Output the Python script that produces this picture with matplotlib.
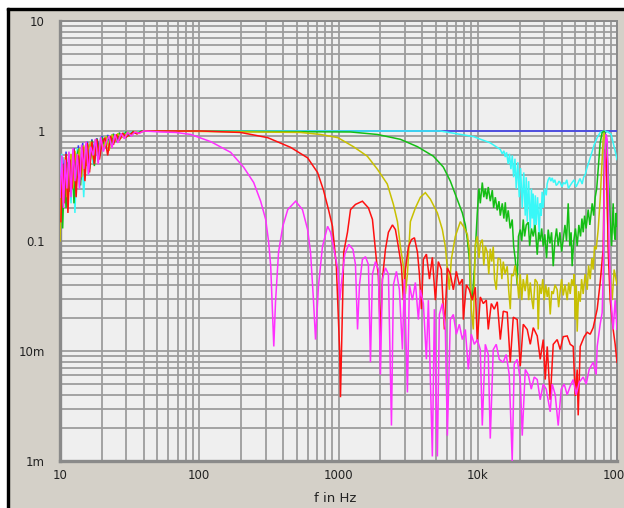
import numpy as np
import matplotlib
matplotlib.use("Agg")
import matplotlib.pyplot as plt
from matplotlib.ticker import LogLocator, FixedLocator, FixedFormatter, NullFormatter
from matplotlib.patches import Rectangle

# noisy low-frequency start, two slightly shifted grids
low_f_a = [10, 10.3, 10.6, 10.9, 11.2, 11.6, 12, 12.4, 12.8, 13.3, 13.8, 14.3, 14.8, 15.4, 16, 16.6, 17.3,
           18, 18.8, 19.6, 20.5, 21.5, 22.5, 23.6, 24.8, 26, 27.4, 29, 30.6, 32.5, 34.5, 37, 40]
low_f_b = [10.15, 10.45, 10.75, 11.05, 11.4, 11.8, 12.2, 12.6, 13.05, 13.55, 14.05, 14.55, 15.1, 15.7, 16.3,
           16.95, 17.65, 18.4, 19.2, 20.05, 21, 22, 23.05, 24.2, 25.4, 26.7, 28.2, 29.8, 31.5, 33.5, 35.7, 38.5, 42]

low_magenta = [0.25, 0.6, 0.2, 0.55, 0.3, 0.65, 0.25, 0.7, 0.35, 0.62, 0.3, 0.75, 0.45, 0.8, 0.4, 0.72, 0.6,
               0.85, 0.5, 0.88, 0.65, 0.8, 0.9, 0.7, 0.93, 0.78, 0.95, 0.85, 0.97, 0.9, 0.98, 0.95, 1.0]
low_red = [0.15, 0.5, 0.22, 0.62, 0.18, 0.55, 0.3, 0.68, 0.25, 0.6, 0.38, 0.72, 0.35, 0.78, 0.42, 0.8, 0.5,
           0.84, 0.55, 0.78, 0.87, 0.6, 0.9, 0.75, 0.93, 0.82, 0.96, 0.88, 0.92, 0.98, 0.94, 0.99, 1.0]
low_yellow = [0.1, 0.45, 0.32, 0.58, 0.25, 0.5, 0.62, 0.3, 0.66, 0.45, 0.7, 0.38, 0.74, 0.48, 0.68, 0.8, 0.55,
              0.84, 0.62, 0.86, 0.7, 0.9, 0.66, 0.93, 0.8, 0.95, 0.86, 0.92, 0.97, 0.93, 0.99, 0.96, 1.0]
low_green = [0.3, 0.13, 0.45, 0.2, 0.52, 0.28, 0.6, 0.22, 0.55, 0.68, 0.32, 0.72, 0.5, 0.76, 0.45, 0.82, 0.48,
             0.85, 0.6, 0.88, 0.7, 0.9, 0.75, 0.94, 0.8, 0.96, 0.88, 0.98, 0.9, 0.99, 0.95, 1.0, 1.0]
low_cyan = [0.4, 0.62, 0.3, 0.55, 0.2, 0.6, 0.22, 0.66, 0.18, 0.7, 0.3, 0.74, 0.25, 0.76, 0.4, 0.8, 0.5,
            0.84, 0.55, 0.88, 0.68, 0.9, 0.75, 0.93, 0.82, 0.95, 0.88, 0.97, 0.92, 0.98, 0.96, 0.99, 1.0]
low_blue = [0.3, 0.58, 0.25, 0.65, 0.35, 0.6, 0.3, 0.7, 0.42, 0.74, 0.36, 0.78, 0.5, 0.8, 0.6, 0.84, 0.62,
            0.86, 0.7, 0.9, 0.72, 0.92, 0.8, 0.94, 0.85, 0.96, 0.9, 0.97, 0.94, 0.98, 0.97, 1.0, 1.0]

f_magenta = [53, 68, 87, 121, 168, 208, 246, 276, 300, 315, 326, 337, 343, 353, 371, 398, 432, 492, 551, 600,
             630, 661, 684, 718, 767, 835, 877, 920, 990, 1023, 1057, 1110, 1185, 1270, 1324, 1370, 1415, 1485,
             1562, 1640, 1696, 1753, 1842, 1935, 2000, 2067, 2173, 2283, 2400, 2480, 2606, 2738, 2877, 2974,
             3125, 3230, 3394, 3566, 3747, 3873, 4070, 4276, 4420, 4720, 4880, 5130, 5300, 5570, 5850, 6050,
             6356, 6680, 7020, 7375, 7750, 8143, 8555, 8990, 9445, 9925, 10430, 10780, 11330, 11900, 12300,
             12920, 13580, 14270, 15240, 16010, 16830, 17680, 18280, 19200, 20200, 20870, 21940, 23050, 24220,
             25450, 26740, 28100, 29530, 31030, 33150, 34260, 36000, 37830, 39750, 41770, 43890, 46130, 48470,
             50930, 53520, 57180, 60090, 63140, 67450, 70880, 72050, 75720, 78240, 79540, 80860, 82240, 83600,
             85000, 86400, 87850, 90800, 93850, 97000, 100000]
m_magenta = [0.98, 0.97, 0.93, 0.80, 0.64, 0.47, 0.34, 0.23, 0.157, 0.098, 0.059, 0.0193, 0.011, 0.028, 0.079,
             0.136, 0.193, 0.23, 0.193, 0.127, 0.079, 0.029, 0.0127, 0.039, 0.089, 0.136, 0.12, 0.089, 0.055,
             0.029, 0.045, 0.076, 0.093, 0.084, 0.061, 0.0157, 0.040, 0.068, 0.072, 0.061, 0.0079, 0.050, 0.065,
             0.055, 0.0061, 0.045, 0.057, 0.050, 0.0021, 0.040, 0.053, 0.036, 0.0103, 0.045, 0.0042, 0.040,
             0.029, 0.042, 0.0193, 0.036, 0.027, 0.0084, 0.029, 0.0011, 0.024, 0.0011, 0.0215, 0.027, 0.0157,
             0.0017, 0.0193, 0.0215, 0.0142, 0.0175, 0.0127, 0.0157, 0.0068, 0.0142, 0.0115, 0.0127, 0.0103,
             0.0021, 0.0115, 0.0093, 0.0016, 0.0103, 0.0115, 0.0084, 0.0079, 0.0093, 0.0061, 0.0010, 0.0076,
             0.0084, 0.0055, 0.0017, 0.0068, 0.0061, 0.0045, 0.0058, 0.0055, 0.0036, 0.0050, 0.0045, 0.0028,
             0.0050, 0.0040, 0.0021, 0.0045, 0.0050, 0.0040, 0.0048, 0.0055, 0.0040, 0.0052, 0.0058, 0.0050,
             0.0068, 0.0079, 0.0061, 0.011, 0.0175, 0.0223, 0.048, 0.24, 0.68, 0.93, 0.84, 0.36, 0.084, 0.028,
             0.0157, 0.029, 0.0157]

f_red = [50, 103, 198, 310, 453, 600, 707, 780, 850, 905, 935, 965, 990, 1020, 1033, 1070, 1090, 1160, 1220,
         1324, 1485, 1640, 1753, 1810, 1870, 1935, 2000, 2067, 2173, 2283, 2440, 2563, 2690, 2830, 2925, 3023,
         3175, 3340, 3510, 3690, 3810, 3940, 4070, 4280, 4500, 4720, 4960, 5210, 5480, 5760, 6050, 6356, 6680,
         7020, 7375, 7750, 7880, 8280, 8700, 9140, 9605, 9925, 10430, 10960, 11520, 11900, 12510, 13140, 13810,
         14520, 15250, 16280, 17120, 17990, 19200, 20200, 21220, 22660, 23830, 25040, 26740, 28100, 29530,
         30530, 31550, 33150, 34840, 37200, 39100, 41090, 43890, 46130, 48470, 50100, 51780, 52640, 54420,
         58150, 61100, 64190, 67450, 72050, 75720, 79540, 80860, 82240, 83600, 85000, 86400, 89320, 93850,
         97000, 100000]
m_red = [1.0, 1.0, 0.97, 0.87, 0.71, 0.57, 0.42, 0.29, 0.19, 0.136, 0.089, 0.059, 0.026, 0.0097, 0.0038, 0.029,
         0.079, 0.12, 0.193, 0.215, 0.23, 0.2, 0.157, 0.103, 0.068, 0.048, 0.0137, 0.045, 0.084, 0.12, 0.14,
         0.127, 0.089, 0.059, 0.029, 0.055, 0.088, 0.103, 0.107, 0.079, 0.050, 0.024, 0.068, 0.076, 0.045,
         0.071, 0.029, 0.065, 0.055, 0.0157, 0.057, 0.050, 0.036, 0.053, 0.040, 0.045, 0.0193, 0.040, 0.036,
         0.029, 0.038, 0.012, 0.031, 0.027, 0.029, 0.0157, 0.027, 0.024, 0.028, 0.0127, 0.023, 0.0225, 0.0079,
         0.0203, 0.0193, 0.0073, 0.0175, 0.0157, 0.0115, 0.0163, 0.0137, 0.0084, 0.0127, 0.0055, 0.011, 0.0036,
         0.0115, 0.0127, 0.0103, 0.0135, 0.0137, 0.0115, 0.011, 0.0039, 0.0068, 0.0026, 0.011, 0.0135, 0.0148,
         0.0142, 0.0163, 0.024, 0.042, 0.084, 0.36, 0.68, 0.55, 0.29, 0.084, 0.029, 0.0157, 0.0115, 0.0079]

f_yellow = [50, 534, 743, 990, 1280, 1610, 1900, 2240, 2480, 2650, 2783, 2925, 3023, 3125, 3283, 3566, 3873,
            4206, 4568, 5130, 5570, 5850, 6050, 6250, 6460, 6900, 7500, 7990, 8420, 8700, 8990,
            9290, 9605, 9925, 10200, 10430, 10780, 11050, 11330, 11710, 12000, 12300, 12600, 12920, 13200,
            13580, 14000, 14520, 14900, 15250, 15700, 16280, 16700, 17120, 17500, 17990, 18500, 19200, 19700,
            20200, 20700, 21220, 21900, 22660, 23200, 23830, 24400, 25040, 25800, 26740, 27180, 27800, 28560,
            29300, 30030, 30800, 31550, 32300, 33150, 34000, 34840, 35900, 37200, 38100, 39100, 40000, 41090,
            42400, 43890, 45000, 46130, 47300, 48470, 49300, 50100, 51000, 51780, 53000, 54420, 55700, 57180,
            59000, 61100, 62500, 64190, 66000, 67450, 69000, 70880, 73240, 75720, 78240, 79540, 80860, 82240,
            83600, 86400, 89320, 92330, 95400, 100000]
m_yellow = [1.0, 0.97, 0.93, 0.87, 0.72, 0.59, 0.45, 0.33, 0.215, 0.15, 0.089, 0.059, 0.033, 0.050, 0.15, 0.2,
            0.25, 0.275, 0.24, 0.18, 0.127, 0.089, 0.057, 0.036, 0.068, 0.11, 0.15, 0.132, 0.115, 0.084, 0.024,
            0.0157, 0.093, 0.11, 0.07, 0.095, 0.103, 0.06, 0.09, 0.079, 0.05, 0.085, 0.065, 0.089, 0.045,
            0.036, 0.07, 0.068, 0.045, 0.065, 0.05, 0.059, 0.035, 0.024, 0.05, 0.048, 0.06, 0.045, 0.03,
            0.05, 0.029, 0.045, 0.035, 0.05, 0.029, 0.042, 0.03, 0.024, 0.045, 0.042, 0.0157, 0.04, 0.033,
            0.045, 0.029, 0.04, 0.031, 0.038, 0.0215, 0.035, 0.033, 0.04, 0.036, 0.025, 0.035, 0.045, 0.032,
            0.04, 0.029, 0.042, 0.033, 0.045, 0.039, 0.05, 0.0193, 0.04, 0.015, 0.035, 0.028, 0.045, 0.033,
            0.05, 0.036, 0.06, 0.045, 0.07, 0.055, 0.09, 0.084, 0.127, 0.24, 0.55, 0.84, 0.97, 0.84,
            0.45, 0.103, 0.045, 0.029, 0.055, 0.040]

f_green = [50, 1220, 1900, 2783, 3690, 4800, 5660, 6356, 7120, 7750, 8143, 8420, 8700, 8840, 9140, 9445,
           9925, 10200, 10430, 10780, 11050, 11330, 11600, 11900, 12300, 12720, 13000, 13370, 13800, 14200,
           14520, 15000, 15400, 15770, 16100, 16550, 17100, 17680, 18100, 18600, 19200, 19600, 20200, 20700,
           21220, 21700, 22300, 23050, 23600, 24300, 25040, 25800, 26740, 27400, 28100, 28800, 29530, 30300,
           31200, 32060, 33000, 33900, 34840, 35800, 36800, 37830, 38900, 40000, 41090, 42300, 43400, 44630,
           45800, 46800, 47630, 48900, 50300, 51780, 53200, 54700, 56000, 57180, 58500, 60000, 62100, 63800,
           66340, 68000, 69720, 71500, 73240, 75720, 78240, 80860, 83600, 86400, 89320, 91500, 93850, 95500,
           97000, 98500, 100000]
m_green = [1.0, 0.98, 0.93, 0.84, 0.72, 0.59, 0.47, 0.35, 0.24, 0.18, 0.14, 0.103, 0.068, 0.036, 0.029, 0.055,
           0.18, 0.30, 0.22, 0.34, 0.25, 0.30, 0.24, 0.31, 0.23, 0.29, 0.2, 0.25, 0.19, 0.23,
           0.17, 0.22, 0.16, 0.225, 0.15, 0.19, 0.13, 0.157, 0.09, 0.068, 0.040, 0.11, 0.127, 0.10,
           0.157, 0.11, 0.14, 0.148, 0.09, 0.13, 0.11, 0.14, 0.075, 0.12, 0.10, 0.13, 0.089, 0.115,
           0.07, 0.127, 0.095, 0.12, 0.059, 0.10, 0.13, 0.09, 0.12, 0.08, 0.103, 0.14, 0.10, 0.22,
           0.09, 0.12, 0.059, 0.10, 0.13, 0.09, 0.14, 0.11, 0.16, 0.12, 0.17, 0.13, 0.193, 0.14,
           0.22, 0.17, 0.25, 0.3, 0.45, 0.78, 0.97, 1.0, 0.84, 0.45, 0.157, 0.09, 0.22, 0.12,
           0.103, 0.18, 0.136]

f_cyan = [50, 5388, 9290, 12300, 14520, 15000, 15400, 15770, 16100, 16550, 16900, 17300, 17700, 18100, 18500,
          18900, 19400, 19860, 20300, 20870, 21400, 21940, 22300, 22660, 23200, 23830, 24300, 24630, 25000,
          25450, 25900, 26300, 26900, 27650, 28100, 28560, 29000, 29530, 30200, 31030, 31500, 32060, 32800,
          33500, 34260, 35000, 35800, 36600, 37500, 38300, 39100, 40200, 41300, 42470, 43600, 44800, 46130,
          47600, 49270, 50800, 52640, 54200, 56220, 57600, 59100, 60500, 62100, 65260, 68570, 72050, 75720,
          80860, 86400, 90800, 93850, 97000, 100000]
m_cyan = [1.0, 1.0, 0.89, 0.78, 0.68, 0.62, 0.66, 0.58, 0.64, 0.5, 0.62, 0.45, 0.6, 0.38, 0.56,
          0.3, 0.52, 0.25, 0.46, 0.2, 0.42, 0.17, 0.38, 0.15, 0.35, 0.13, 0.3, 0.16, 0.27,
          0.12, 0.26, 0.14, 0.25, 0.115, 0.22, 0.17, 0.28, 0.2, 0.3, 0.26, 0.33, 0.36, 0.38,
          0.35, 0.375, 0.34, 0.36, 0.32, 0.33, 0.35, 0.34, 0.31, 0.34, 0.33, 0.36, 0.3, 0.32,
          0.34, 0.36, 0.31, 0.34, 0.37, 0.33, 0.38, 0.40, 0.45, 0.50, 0.61, 0.75, 0.87, 0.97,
          1.0, 0.98, 0.93, 0.78, 0.66, 0.55]

f_blue = [50, 80000, 82000, 84000, 100000]
m_blue = [1.0, 1.0, 0.95, 1.0, 1.0]

x_ticks = [10, 100, 1000, 1e4, 1e5]
x_labels = ["10", "100", "1000", "10k", "100k"]
y_ticks = [1e-3, 1e-2, 0.1, 1, 10]
y_labels = ["1m", "10m", "0.1", "1", "10"]

# drawn bottom first, so the shorter windows sit on top
curves = [
    (low_f_b, low_blue, f_blue, m_blue, "#3838f0"),
    (low_f_a, low_cyan, f_cyan, m_cyan, "#38f8f8"),
    (low_f_b, low_green, f_green, m_green, "#14be14"),
    (low_f_a, low_yellow, f_yellow, m_yellow, "#c8c000"),
    (low_f_b, low_red, f_red, m_red, "#ff1010"),
    (low_f_a, low_magenta, f_magenta, m_magenta, "#ff30ff"),
]

W, H = 624, 508
fig = plt.figure(figsize=(W / 100, H / 100), dpi=100, facecolor="#d4d0c8")

# window frame: white strip + black edge on top and left
fig.patches.append(Rectangle((0, 1 - 8 / H), 1, 8 / H, transform=fig.transFigure, color="white", zorder=0))
fig.patches.append(Rectangle((0, 0), 7 / W, 1, transform=fig.transFigure, color="white", zorder=0))
fig.patches.append(Rectangle((7 / W, 1 - 10 / H), 1, 2 / H, transform=fig.transFigure, color="black", zorder=1))
fig.patches.append(Rectangle((7 / W, 0), 2 / W, 1 - 8 / H, transform=fig.transFigure, color="black", zorder=1))

ax = fig.add_axes([60 / W, 1 - 461 / H, 557 / W, 440 / H])
ax.set_facecolor("#efefef")

for lf, lm, f, m, c in curves:
    x = np.concatenate([lf, f])
    y = np.concatenate([lm, m])
    ax.plot(x, y, color=c, lw=1.1, solid_joinstyle="miter", zorder=3)

ax.set_xscale("log")
ax.set_yscale("log")
ax.set_xlim(10, 1e5)
ax.set_ylim(1e-3, 10)

ax.xaxis.set_major_locator(FixedLocator(x_ticks))
ax.xaxis.set_major_formatter(FixedFormatter(x_labels))
ax.yaxis.set_major_locator(FixedLocator(y_ticks))
ax.yaxis.set_major_formatter(FixedFormatter(y_labels))
ax.xaxis.set_minor_locator(LogLocator(base=10, subs=np.arange(2, 10), numticks=20))
ax.yaxis.set_minor_locator(LogLocator(base=10, subs=np.arange(2, 10), numticks=20))
ax.xaxis.set_minor_formatter(NullFormatter())
ax.yaxis.set_minor_formatter(NullFormatter())

ax.grid(True, which="both", color="#9c9c9c", lw=1.3, zorder=1)
ax.set_axisbelow(True)
ax.tick_params(which="both", length=0, colors="#222222", labelsize=8.5)
ax.tick_params(axis="x", pad=6)
ax.tick_params(axis="y", pad=11)

for s in ax.spines.values():
    s.set_color("#8a8a8a")
    s.set_linewidth(1.4)
ax.spines["left"].set_linewidth(2.4)
ax.spines["bottom"].set_linewidth(2.4)

fig.text(335 / W, 1 - 499 / H, "f in Hz", ha="center", va="center", fontsize=9.5, color="#222222")

fig.savefig("out.png", dpi=100, facecolor=fig.get_facecolor())
